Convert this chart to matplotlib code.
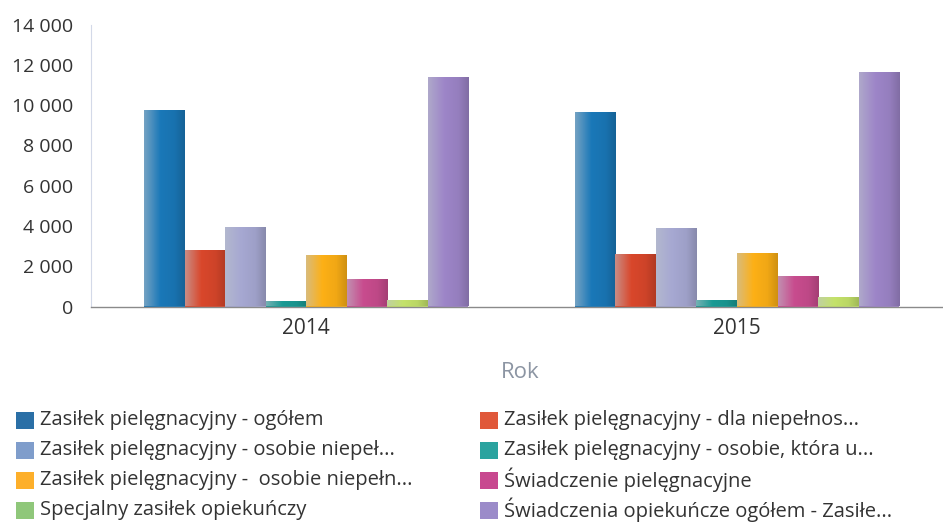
import numpy as np
import matplotlib
matplotlib.use('Agg')
import matplotlib.pyplot as plt
from matplotlib.colors import LinearSegmentedColormap, to_rgb
from matplotlib.patches import Rectangle

plt.rcParams['font.family'] = ['Open Sans', 'DejaVu Sans']

years = ['2014', '2015']
series = [
    'Zasiłek pielęgnacyjny - ogółem',
    'Zasiłek pielęgnacyjny - dla niepełnos...',
    'Zasiłek pielęgnacyjny - osobie niepeł...',
    'Zasiłek pielęgnacyjny - osobie, która u...',
    'Zasiłek pielęgnacyjny -  osobie niepełn...',
    'Świadczenie pielęgnacyjne',
    'Specjalny zasiłek opiekuńczy',
    'Świadczenia opiekuńcze ogółem - Zasiłe...',
]
vals_2014 = [9750, 2820, 3960, 280, 2580, 1350, 300, 11400]
vals_2015 = [9680, 2620, 3890, 330, 2640, 1500, 450, 11630]
bar_colors = ['#1a78b8', '#d9472b', '#a6a8d2', '#1a9a94',
              '#fdb016', '#c84c8e', '#c4e26a', '#9d85c8']
legend_colors = ['#2a6fa6', '#e0583a', '#7f9dcb', '#2aa39f',
                 '#fdaf2a', '#c8488f', '#8fc77a', '#9b8bc9']
yticks = [0, 2000, 4000, 6000, 8000, 10000, 12000, 14000]
ytick_labels = ['0', '2 000', '4 000', '6 000', '8 000', '10 000', '12 000', '14 000']

values = np.array([vals_2014, vals_2015])

W, H = 943, 526
fig = plt.figure(figsize=(W / 100, H / 100), dpi=100)
ax = fig.add_axes([91 / W, 1 - 306.5 / H, 1 - 91 / W, (306.5 - 24.5) / H])

x = np.arange(len(years))
bw = 0.094
grad = np.linspace(0, 1, 64).reshape(1, -1)
gray = np.array([0.74, 0.77, 0.80])

for i, name in enumerate(series):
    base = np.array(to_rgb(bar_colors[i]))
    cmap = LinearSegmentedColormap.from_list(
        'c%d' % i, [(0, 0.45 * base + 0.55 * gray), (0.4, base),
                    (0.75, base * 0.95), (1, base * 0.82)])
    bars = ax.bar(x + (i - 3.5) * bw, values[:, i], width=bw,
                  color=bar_colors[i], zorder=2, linewidth=0)
    for b in bars:
        x0, w, h = b.get_x(), b.get_width(), b.get_height()
        im = ax.imshow(grad, extent=(x0, x0 + w, 0, h), cmap=cmap,
                       aspect='auto', zorder=3, interpolation='bilinear')
        im.set_clip_path(b)

ax.set_xlim(-0.499, 1.478)
ax.set_ylim(0, 14000)
ax.set_xticks(x)
ax.set_xticklabels(years)
ax.set_yticks(yticks)
ax.set_yticklabels(ytick_labels)
ax.tick_params(axis='y', length=0, pad=13, labelsize=14, labelcolor='#333333')
ax.tick_params(axis='x', length=0, pad=8, labelsize=15, labelcolor='#333333')

for s in ['top', 'right']:
    ax.spines[s].set_visible(False)
ax.spines['left'].set_color('#d3d9e8')
ax.spines['left'].set_linewidth(0.8)
ax.spines['bottom'].set_color('#8a8a8a')
ax.spines['bottom'].set_linewidth(1.0)
ax.spines['bottom'].set_zorder(4)

fig.text(520 / W, 1 - 373 / H, 'Rok', ha='center', va='center',
         fontsize=16, color='#8c95a3')

# legend: two columns, series go left-right then down
for k, name in enumerate(series):
    col, row = k % 2, k // 2
    sx = 16 if col == 0 else 480
    cy = 420 + 30 * row
    fig.add_artist(Rectangle((sx / W, 1 - (cy + 8.5) / H), 18 / W, 17 / H,
                             transform=fig.transFigure,
                             facecolor=legend_colors[k], linewidth=0))
    fig.text((sx + 24) / W, 1 - cy / H, name, ha='left', va='center',
             fontsize=14.5, color='#333333')

fig.savefig('out.png', dpi=100)
